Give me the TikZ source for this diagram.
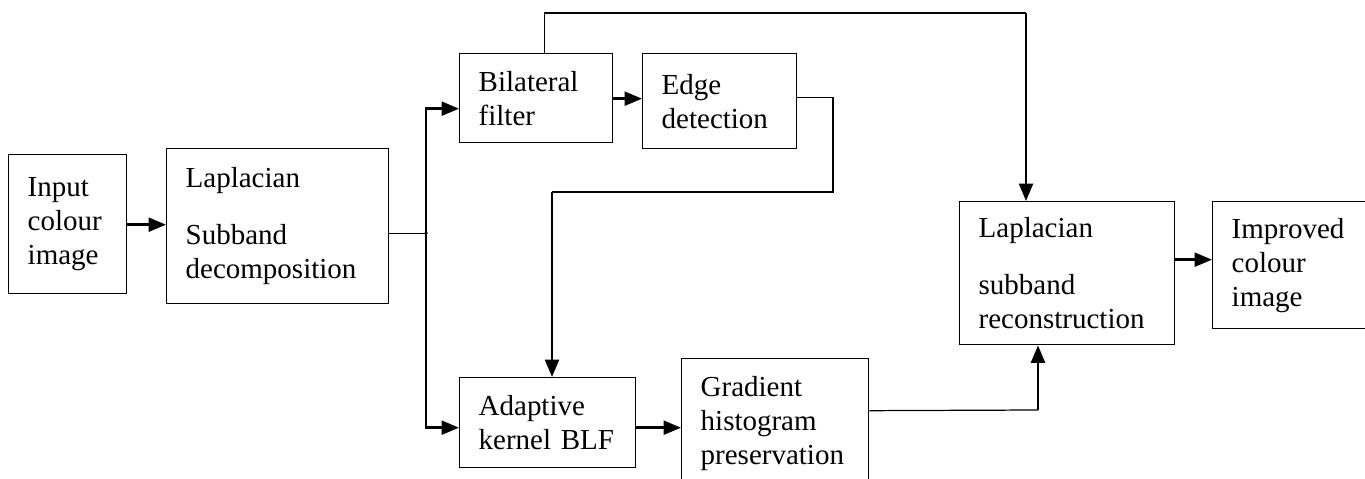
\documentclass[tikz,border=0pt]{standalone}
\usepackage{fontspec}
\setmainfont{Liberation Serif}
\usetikzlibrary{arrows.meta}
\begin{document}
\begin{tikzpicture}[x=0.02cm, y=-0.02cm,
    box/.style={draw, line width=0.8pt, anchor=north west, align=left,
        inner xsep=0.38cm, inner ysep=0pt, font=\fontsize{16.5}{19.4}\selectfont},
    line/.style={line width=0.7pt},
    arr/.style={line width=1.4pt, -{Triangle[length=0.35cm,width=0.28cm]}}]
    \useasboundingbox (0,0) rectangle (1365,479);
    \clip (0,0) rectangle (1365,479);
    % blocks
    \node[box, text width=1.6cm, minimum height=2.78cm] (input) at (8,154) {Input\\colour\\image};
    \node[box, text width=3.68cm, minimum height=3.1cm] (lapdec) at (166,148) {Laplacian\\[0.46cm]Subband\\decomposition};
    \node[box, text width=2.3cm, minimum height=1.78cm] (bilat) at (459,53) {Bilateral\\filter};
    \node[box, text width=2.32cm, minimum height=1.9cm] (edge) at (642,53) {Edge\\detection};
    \node[box, text width=2.76cm, minimum height=1.8cm] (adapt) at (459,377) {Adaptive\\kernel BLF};
    \node[box, text width=2.98cm, minimum height=2.6cm] (grad) at (681,358) {Gradient\\histogram\\preservation};
    \node[box, text width=3.54cm, minimum height=2.86cm] (lapre) at (959,201) {Laplacian\\[0.46cm]subband\\reconstruction};
    \node[box, text width=2.6cm, minimum height=2.54cm] (improved) at (1212,201) {Improved\\colour\\image};
    % routing points
    \coordinate (bus) at (426,233);
    \coordinate (top) at (1026,13);
    \coordinate (ecorner) at (833,192);
    \coordinate (edrop) at (552,192);
    \coordinate (gup) at (1038,410);
    % connectors
    \draw[arr] ([yshift=-0.01cm]input.east) -- ([yshift=-0.01cm]input.east -| lapdec.west);
    \draw[line] ([yshift=-0.15cm]lapdec.east) -- ([yshift=-0.15cm]lapdec.east -| bus);
    \fill (bus) circle (0.035cm);
    \draw[arr] (bus) |- ([yshift=-0.21cm]bilat.west);
    \draw[arr] (bus) |- ([yshift=-0.1cm]adapt.west);
    \draw[arr] ([yshift=-0.01cm]bilat.east) -- ([yshift=-0.01cm]bilat.east -| edge.west);
    \draw[line] ([xshift=0.17cm]bilat.north) |- (top);
    \draw[arr] (top) -- (top |- lapre.north);
    \draw[line] ([yshift=0.07cm]edge.east) -| (ecorner) -- (edrop);
    \draw[arr] (edrop) -- (edrop |- adapt.north);
    \draw[arr] ([yshift=-0.1cm]adapt.east) -- ([yshift=-0.1cm]adapt.east -| grad.west);
    \draw[line] ([yshift=0.26cm]grad.east) -- (gup);
    \draw[arr] (gup) -- (gup |- lapre.south);
    \draw[arr] ([yshift=0.11cm]improved.west -| lapre.east) -- ([yshift=0.11cm]improved.west);
\end{tikzpicture}
\end{document}
